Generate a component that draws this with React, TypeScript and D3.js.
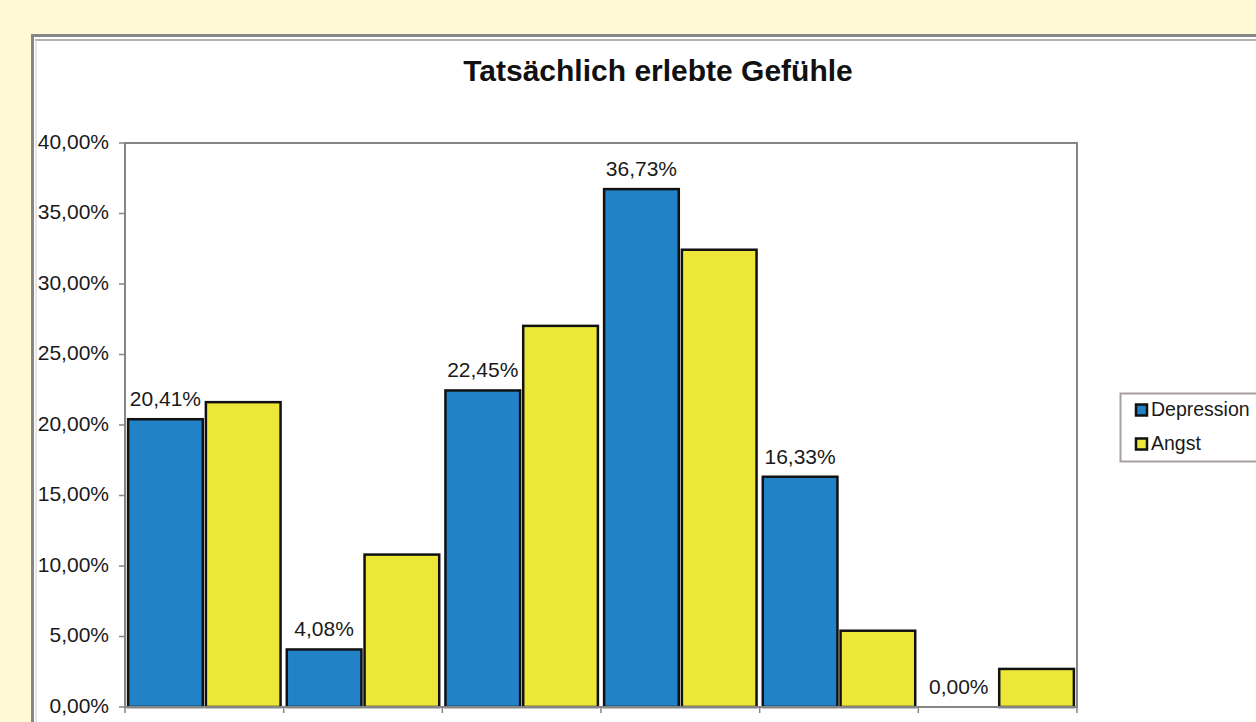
import React from "react";
import * as d3 from "d3";

const categories = ["1", "2", "3", "4", "5", "6"];
const seriesNames = ["Depression", "Angst"];
const depression = [20.41, 4.08, 22.45, 36.73, 16.33, 0.0];
const angst = [21.62, 10.81, 27.03, 32.43, 5.41, 2.7];
const yTicks = [0, 5, 10, 15, 20, 25, 30, 35, 40];
const title = "Tatsächlich erlebte Gefühle";
const colors = ["#2282C7", "#EDE838"];

const W = 1256;
const H = 722;
const FONT = "Arial, 'Liberation Sans', sans-serif";

const fmt = (v: number) => v.toFixed(2).replace(".", ",") + "%";

export default function App() {
  const plot = { left: 125, right: 1077, top: 143, bottom: 707 };
  const y = d3.scaleLinear().domain([0, 40]).range([plot.bottom, plot.top]);
  const x0 = d3.scaleBand<string>().domain(categories).range([plot.left, plot.right]).padding(0);
  const x1 = d3
    .scaleBand<string>()
    .domain(seriesNames)
    .range([0, x0.bandwidth()])
    .paddingInner(0.04)
    .paddingOuter(0.04);
  const data = [depression, angst];

  return (
    <svg
      width={W}
      height={H}
      style={{ position: "fixed", left: 0, top: 0, display: "block" }}
      fontFamily={FONT}
    >
      <rect x={0} y={0} width={W} height={H} fill="#FFF9D5" />
      {/* outer frame */}
      <rect x={32.5} y={35.5} width={W} height={H} fill="#FFFFFF" stroke="#868686" strokeWidth={3} />
      <line x1={35} x2={W} y1={40} y2={40} stroke="#B8B0B0" strokeWidth={2} />
      <line x1={36} x2={36} y1={40} y2={H} stroke="#D0CCCC" strokeWidth={1} />

      <text x={658} y={81} textAnchor="middle" fontSize={30} fontWeight="bold" fill="#111">
        {title}
      </text>

      {/* plot area */}
      <rect
        x={plot.left}
        y={plot.top}
        width={plot.right - plot.left}
        height={plot.bottom - plot.top}
        fill="#FFFFFF"
        stroke="#858585"
        strokeWidth={2}
      />

      {/* y ticks */}
      {yTicks.map((t) => (
        <g key={t}>
          <line x1={plot.left - 6} x2={plot.left} y1={y(t)} y2={y(t)} stroke="#858585" strokeWidth={1.5} />
          <text
            x={plot.left - 16}
            y={y(t)}
            textAnchor="end"
            dominantBaseline="middle"
            fontSize={21}
            fill="#1a1a1a"
          >
            {fmt(t)}
          </text>
        </g>
      ))}

      {/* x ticks */}
      {[...categories.map((c) => x0(c) as number), plot.right].map((xx, i) => (
        <line key={i} x1={xx} x2={xx} y1={plot.bottom} y2={plot.bottom + 6} stroke="#858585" strokeWidth={1.5} />
      ))}

      {/* bars */}
      {categories.map((c, i) => (
        <g key={c} transform={`translate(${x0(c)},0)`}>
          {seriesNames.map((s, j) => {
            const v = data[j][i];
            const bx = x1(s) as number;
            const by = y(v);
            return v > 0 ? (
              <rect
                key={s}
                x={bx}
                y={by}
                width={x1.bandwidth()}
                height={plot.bottom - by}
                fill={colors[j]}
                stroke="#111"
                strokeWidth={2.5}
              />
            ) : null;
          })}
          <text
            x={(x1("Depression") as number) + x1.bandwidth() / 2}
            y={y(depression[i]) - 13}
            textAnchor="middle"
            fontSize={21}
            fill="#1a1a1a"
          >
            {fmt(depression[i])}
          </text>
        </g>
      ))}

      {/* x axis line */}
      <line x1={plot.left} x2={plot.right} y1={plot.bottom} y2={plot.bottom} stroke="#858585" strokeWidth={2} />

      {/* legend */}
      <rect x={1120.5} y={393.5} width={200} height={68} fill="#FFFFFF" stroke="#A8A0A0" strokeWidth={2} />
      {seriesNames.map((s, j) => (
        <g key={s} transform={`translate(1136,${410 + j * 34})`}>
          <rect x={0} y={-5.5} width={11} height={11} fill={colors[j]} stroke="#111" strokeWidth={2.5} />
          <text x={15} y={1} dominantBaseline="middle" fontSize={19.5} fill="#1a1a1a">
            {s}
          </text>
        </g>
      ))}
    </svg>
  );
}
